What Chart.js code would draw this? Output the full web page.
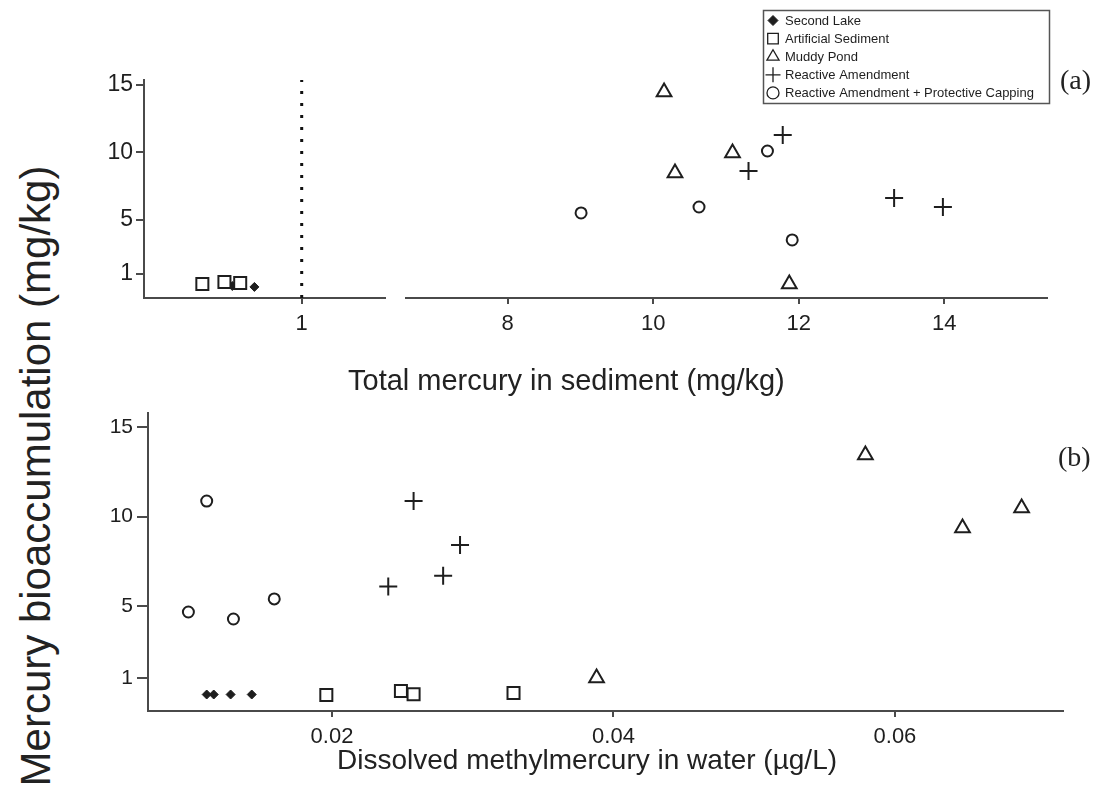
<!DOCTYPE html>
<html>
<head>
<meta charset="utf-8">
<title>Mercury bioaccumulation</title>
<script src="https://cdn.jsdelivr.net/npm/chart.js@4.4.1/dist/chart.umd.min.js"></script>
<style>
  body { margin: 0; background: #fff; }
  #wrap { position: relative; width: 1099px; height: 785px; overflow: hidden;
          font-family: "Liberation Sans", Arial, sans-serif; color: #222; }
  canvas { position: absolute; }
  .lbl { position: absolute; white-space: nowrap; line-height: 1; }
  .tag { font-family: "Liberation Serif", "Times New Roman", serif; font-size: 28px; }
</style>
</head>
<body>
<div id="wrap">
  <canvas id="chartA1" width="305" height="280" style="left:90px;top:60px"></canvas>
  <canvas id="chartA2" width="704" height="340" style="left:395px;top:0px"></canvas>
  <canvas id="chartB" width="1009" height="392" style="left:90px;top:393px"></canvas>

  <div class="lbl" style="left:348px;top:366px;font-size:29px">Total mercury in sediment (mg/kg)</div>
  <div class="lbl" style="left:337px;top:746px;font-size:28px">Dissolved methylmercury in water (µg/L)</div>
  <div class="lbl" style="left:36px;top:476px;font-size:42px;transform:translate(-50%,-50%) rotate(-90deg)">Mercury bioaccumulation (mg/kg)</div>
  <div class="lbl tag" style="left:1060px;top:66px">(a)</div>
  <div class="lbl tag" style="left:1058px;top:443px">(b)</div>
</div>

<script>
// ---- data ----
const seriesNames = ['Second Lake', 'Artificial Sediment', 'Muddy Pond',
  'Reactive Amendment', 'Reactive Amendment + Protective Capping'];

// (a) total mercury in sediment (mg/kg) vs bioaccumulation (mg/kg)
const lakeSedA = [0.56, 0.70];
const lakeBioA = [0.11, 0.04];
const artSedA = [0.37, 0.51, 0.61];
const artBioA = [0.26, 0.41, 0.33];
const pondSedA = [10.15, 10.30, 11.09, 11.87];
const pondBioA = [14.48, 8.48, 9.96, 0.26];
const amendSedA = [11.78, 11.31, 13.31, 13.98];
const amendBioA = [11.30, 8.63, 6.63, 5.96];
const capSedA = [9.01, 10.63, 11.57, 11.91];
const capBioA = [5.52, 5.96, 10.11, 3.52];

// (b) dissolved methylmercury in water (ug/L) vs bioaccumulation (mg/kg)
const lakeWaterB = [0.0111, 0.0116, 0.0128, 0.0143];
const lakeBioB = [0.08, 0.08, 0.08, 0.08];
const artWaterB = [0.0196, 0.0249, 0.0258, 0.0329];
const artBioB = [0.05, 0.27, 0.10, 0.16];
const pondWaterB = [0.0388, 0.0579, 0.0648, 0.0690];
const pondBioB = [1.0, 13.44, 9.37, 10.48];
const amendWaterB = [0.0240, 0.0258, 0.0279, 0.0291];
const amendBioB = [6.10, 10.87, 6.71, 8.42];
const capWaterB = [0.0098, 0.0111, 0.0130, 0.0159];
const capBioB = [4.68, 10.87, 4.29, 5.41];

const bioTicks = [1, 5, 10, 15];
const sedTicksLow = [1];
const sedTicksHigh = [8, 10, 12, 14];
const waterTicks = [0.02, 0.04, 0.06];
const sedThreshold = 1;

// ---- look ----
const FONT = '"Liberation Sans", Arial, sans-serif';
const INK = '#1e1e1e';
const AXIS = '#4a4a4a';

const markers = [
  { pointStyle: 'rectRot', radius: 4.5, fill: INK, width: 1 },
  { pointStyle: 'rect', radius: 8.5, fill: '#fff', width: 2 },
  { pointStyle: 'triangle', radius: 8.5, fill: '#fff', width: 2 },
  { pointStyle: 'cross', radius: 9, fill: '#fff', width: 2 },
  { pointStyle: 'circle', radius: 5.5, fill: '#fff', width: 2 },
];
const legendMarkers = [
  { pointStyle: 'rectRot', radius: 5, fill: INK, width: 1 },
  { pointStyle: 'rect', radius: 7.5, fill: '#fff', width: 1.3 },
  { pointStyle: 'triangle', radius: 7, fill: '#fff', width: 1.3 },
  { pointStyle: 'cross', radius: 7.5, fill: '#fff', width: 1.3 },
  { pointStyle: 'circle', radius: 6, fill: '#fff', width: 1.3 },
];

const pts = (xs, ys) => xs.map((x, i) => ({ x, y: ys[i] }));

function series(i, xs, ys) {
  const m = markers[i];
  return {
    label: seriesNames[i],
    data: pts(xs, ys),
    pointStyle: m.pointStyle,
    pointRadius: m.radius,
    backgroundColor: m.fill,
    borderColor: INK,
    borderWidth: m.width,
  };
}

function valueAxis(min, max, ticks, opts) {
  return {
    type: 'linear',
    min, max,
    display: opts.display !== false,
    afterBuildTicks: s => { s.ticks = ticks.map(v => ({ value: v })); },
    afterFit: s => { if (opts.width) s.width = opts.width; if (opts.height) s.height = opts.height; },
    grid: { drawOnChartArea: false, drawTicks: true, tickLength: opts.tickLength, color: AXIS, lineWidth: 2 },
    border: { display: true, color: AXIS, width: 2 },
    ticks: {
      font: { family: FONT, size: opts.size },
      color: INK,
      padding: opts.padding,
      autoSkip: false,
      maxRotation: 0,
      callback: v => String(v),
    },
  };
}

const baseOptions = (padding, scales) => ({
  responsive: false,
  animation: false,
  layout: { padding },
  plugins: { legend: { display: false }, tooltip: { enabled: false } },
  scales,
});

// (a) y range shared by both sediment sub-panels
const bioMinA = -0.78, bioMaxA = 15.37;

// left part of (a): low sediment concentrations, dotted line at 1 mg/kg
new Chart(document.getElementById('chartA1'), {
  type: 'scatter',
  data: {
    datasets: [
      {
        type: 'line',
        data: [{ x: sedThreshold, y: bioMinA }, { x: sedThreshold, y: bioMaxA }],
        borderColor: '#111',
        borderWidth: 3,
        borderDash: [3, 9],
        pointRadius: 0,
        fill: false,
      },
      series(1, artSedA, artBioA),
      series(0, lakeSedA, lakeBioA),
    ],
  },
  options: baseOptions({ top: 20, right: 5, left: 0, bottom: 0 }, {
    x: valueAxis(0, 1.525, sedTicksLow, { height: 42, tickLength: 6, padding: 7, size: 22 }),
    y: valueAxis(bioMinA, bioMaxA, bioTicks, { width: 54, tickLength: 8, padding: 3, size: 23 }),
  }),
});

// legend box drawn in the upper right of (a)
const legendBox = {
  id: 'legendBox',
  afterDraw(chart) {
    const ctx = chart.ctx;
    const left = 368, top = 10, w = 286, h = 93;
    ctx.save();
    ctx.strokeStyle = '#555';
    ctx.lineWidth = 1.5;
    ctx.strokeRect(left + 0.5, top + 0.5, w, h);
    ctx.font = '13px ' + FONT;
    ctx.textBaseline = 'middle';
    seriesNames.forEach((name, i) => {
      const y = top + 10.5 + i * 18.1;
      const m = legendMarkers[i];
      ctx.fillStyle = m.fill;
      ctx.strokeStyle = INK;
      ctx.lineWidth = m.width;
      Chart.helpers.drawPoint(ctx, { pointStyle: m.pointStyle, radius: m.radius, borderWidth: m.width, rotation: 0 }, left + 10, y);
      ctx.fillStyle = INK;
      ctx.fillText(name, left + 22, y + 0.5);
    });
    ctx.restore();
  },
};

// right part of (a): amended / pond sediments
new Chart(document.getElementById('chartA2'), {
  type: 'scatter',
  data: {
    datasets: [
      series(2, pondSedA, pondBioA),
      series(3, amendSedA, amendBioA),
      series(4, capSedA, capBioA),
    ],
  },
  options: baseOptions({ top: 80, right: 52, left: 8, bottom: 0 }, {
    x: valueAxis(6.605, 15.41, sedTicksHigh, { height: 42, tickLength: 6, padding: 7, size: 22 }),
    y: valueAxis(bioMinA, bioMaxA, bioTicks, { display: false }),
  }),
  plugins: [legendBox],
});

// (b) methylmercury in water
new Chart(document.getElementById('chartB'), {
  type: 'scatter',
  data: {
    datasets: [
      series(4, capWaterB, capBioB),
      series(0, lakeWaterB, lakeBioB),
      series(1, artWaterB, artBioB),
      series(3, amendWaterB, amendBioB),
      series(2, pondWaterB, pondBioB),
    ],
  },
  options: baseOptions({ top: 20, right: 36, left: 0, bottom: 0 }, {
    x: valueAxis(0.00693, 0.07194, waterTicks, { height: 74, tickLength: 6, padding: 7, size: 22 }),
    y: valueAxis(-0.84, 15.78, bioTicks, { width: 58, tickLength: 11, padding: 4, size: 21 }),
  }),
});
</script>
</body>
</html>
